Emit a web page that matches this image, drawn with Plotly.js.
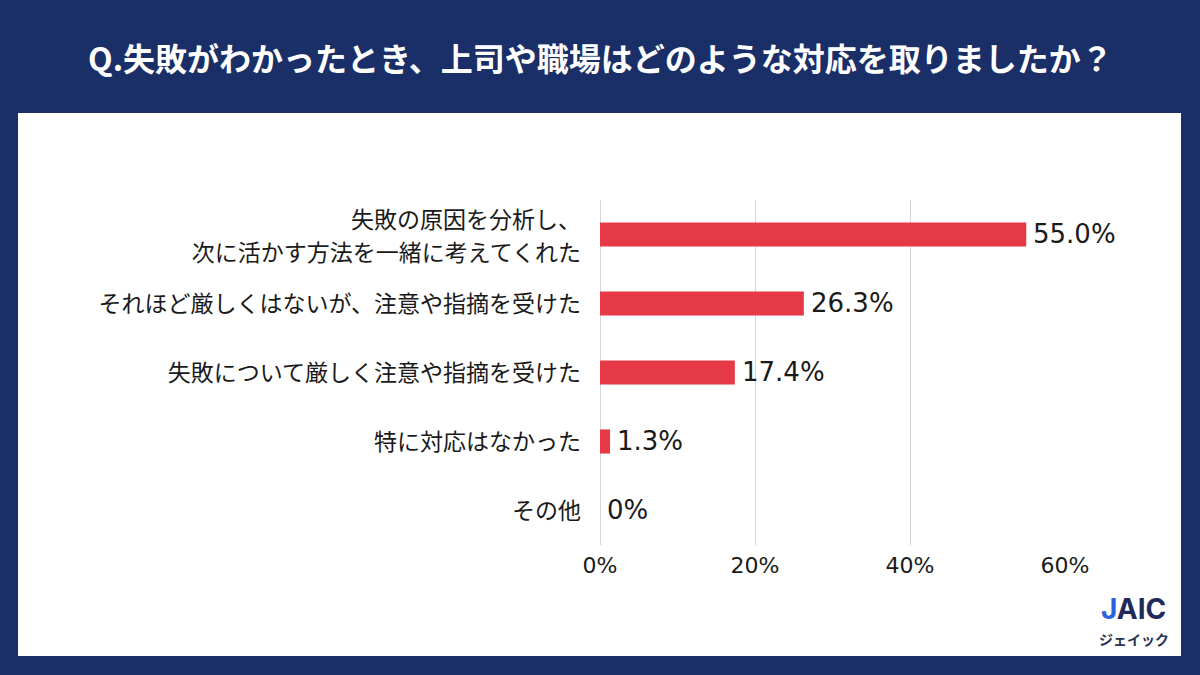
<!DOCTYPE html>
<html>
<head>
<meta charset="utf-8">
<script src="https://cdn.plot.ly/plotly-3.0.1.min.js"></script>
<style>
html,body{margin:0;padding:0;background:#1a2e68;}
#chart{width:1200px;height:675px;}
</style>
</head>
<body>
<div id="chart"></div>
<script>
const categories = [
  "失敗の原因を分析し、<br>次に活かす方法を一緒に考えてくれた",
  "それほど厳しくはないが、注意や指摘を受けた",
  "失敗について厳しく注意や指摘を受けた",
  "特に対応はなかった",
  "その他"
];
const values = [55.0, 26.3, 17.4, 1.3, 0];
const xTickVals = [0, 20, 40, 60];
const xTickText = ["0%", "20%", "40%", "60%"];
const titleText = "Q.失敗がわかったとき、上司や職場はどのような対応を取りましたか？";

const W = 1200, H = 675;
const labels = values.map(v => v === 0 ? "0%" : v.toFixed(1) + "%");

const trace = {
  type: "bar",
  orientation: "h",
  x: values,
  y: categories,
  marker: {color: "#e63946"},
  hoverinfo: "skip"
};

const valueAnnotations = values.map((v, i) => ({
  text: labels[i],
  xref: "x", yref: "y", x: v, y: categories[i],
  xanchor: "left", yanchor: "middle", xshift: 5, yshift: 1,
  showarrow: false,
  font: {family: "DejaVu Sans", size: 26, color: "#1a1a1a"}
}));

const layout = {
  width: W, height: H,
  paper_bgcolor: "#1a2e68",
  plot_bgcolor: "rgba(0,0,0,0)",
  margin: {l: 0, r: 0, t: 0, b: 0},
  showlegend: false,
  bargap: 0.65,
  xaxis: {
    domain: [600 / W, 1065 / W],
    range: [0, 60],
    tickvals: xTickVals,
    ticktext: xTickText,
    showgrid: true,
    gridcolor: "#d6d6d6",
    gridwidth: 1,
    zeroline: true,
    zerolinecolor: "#d6d6d6",
    zerolinewidth: 1,
    showline: false,
    ticks: "",
    ticklabelstandoff: 5,
    tickfont: {family: "DejaVu Sans", size: 22, color: "#1a1a1a"},
    fixedrange: true
  },
  yaxis: {
    domain: [(H - 545) / H, (H - 200) / H],
    autorange: "reversed",
    showgrid: false,
    zeroline: false,
    showline: false,
    ticks: "",
    ticklabelstandoff: 18,
    tickfont: {family: "Noto Sans CJK JP", size: 23, color: "#1a1a1a"},
    automargin: false,
    fixedrange: true
  },
  shapes: [{
    type: "rect", xref: "paper", yref: "paper",
    x0: 18 / W, x1: 1181 / W, y0: (H - 656) / H, y1: (H - 113) / H,
    fillcolor: "#ffffff", line: {width: 0}, layer: "below"
  }],
  annotations: [
    {
      text: "<b>" + titleText + "</b>",
      xref: "paper", yref: "paper", x: 0.5, y: (H - 57) / H,
      xanchor: "center", yanchor: "middle", showarrow: false,
      font: {family: "Noto Sans CJK JP", size: 32, color: "#ffffff"}
    },
    {
      text: "<b><span style=\"color:#2b62d9\">J</span>AIC</b>",
      xref: "paper", yref: "paper", x: 1133 / W, y: (H - 609) / H,
      xanchor: "center", yanchor: "middle", showarrow: false,
      font: {family: "Inter", size: 28, color: "#1f2a5a"}
    },
    {
      text: "<b>ジェイック</b>",
      xref: "paper", yref: "paper", x: 1134 / W, y: (H - 639) / H,
      xanchor: "center", yanchor: "middle", showarrow: false,
      font: {family: "Noto Sans CJK JP", size: 14, color: "#2a3350"}
    }
  ].concat(valueAnnotations)
};

Plotly.newPlot("chart", [trace], layout, {displayModeBar: false, staticPlot: true}).then(function (gd) {
  // widen the line spacing of the two-line category label to match the reference
  gd.querySelectorAll(".ytick text").forEach(function (t) {
    const lines = t.querySelectorAll("tspan.line");
    if (lines.length > 1) {
      for (let k = 1; k < lines.length; k++) lines[k].setAttribute("dy", "1.45em");
      const y = parseFloat(t.getAttribute("y")) || 0;
      t.setAttribute("y", y - 2);
    }
  });
});
</script>
</body>
</html>
